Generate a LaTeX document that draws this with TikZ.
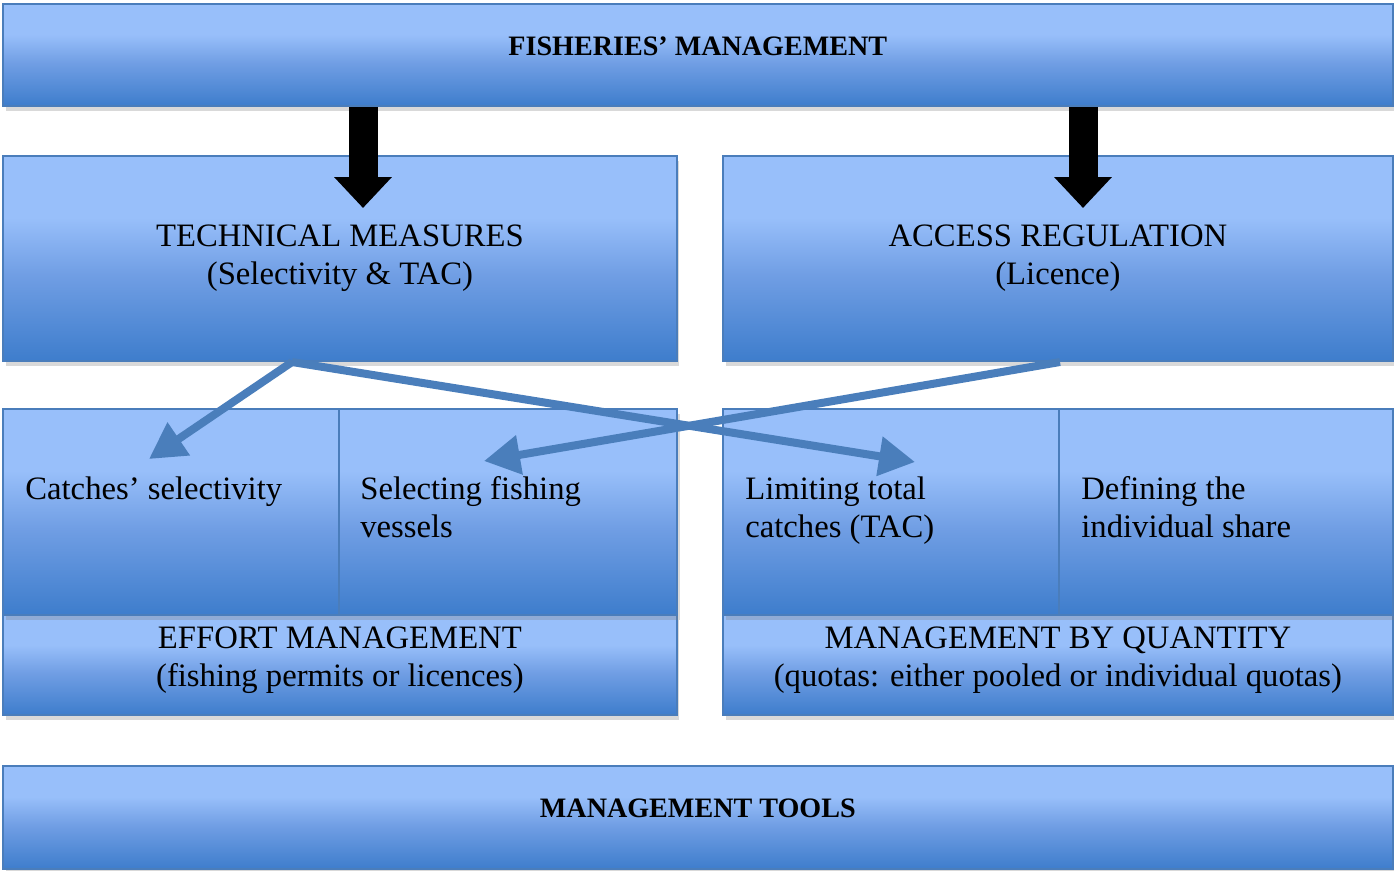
\documentclass[tikz,border=0pt]{standalone}
\usepackage{fontspec}
\setmainfont{Liberation Serif}
\usepackage{tikz}
\usetikzlibrary{arrows.meta,shadows}
\definecolor{paneltop}{RGB}{152,191,250}
\definecolor{panelmid}{RGB}{112,158,228}
\definecolor{panelbot}{RGB}{62,125,204}
\definecolor{panelline}{RGB}{74,125,187}
\definecolor{linkblue}{RGB}{74,126,187}
\pgfdeclareverticalshading{panelshade}{100bp}{color(0bp)=(panelbot); color(25bp)=(panelbot); color(46bp)=(panelmid); color(60bp)=(paneltop); color(100bp)=(paneltop)}
\newcommand{\bigtext}{\fontsize{18.6}{21.8}\selectfont}

\begin{document}
\begin{tikzpicture}[x=0.02cm, y=-0.02cm,
    panel/.style={draw=panelline, line width=1.1pt, shading=panelshade, anchor=north west,
      drop shadow={shadow xshift=1.5pt, shadow yshift=-3pt, opacity=0.3}, font=\bigtext, align=center},
    banner/.style={panel, minimum width=27.8cm, font=\bfseries\fontsize{16}{19}\selectfont, text depth=0.36cm},
    celltext/.style={anchor=north west, align=left, inner sep=0pt, font=\bigtext},
    bigarrow/.style={line width=0.58cm, -{Triangle[length=0.62cm, width=1.12cm]}},
    linkarrow/.style={draw=linkblue, line width=0.16cm, -{Triangle[length=0.72cm, width=0.76cm]}}]
    \useasboundingbox (0,0) rectangle (1394,870);

    \node[banner, minimum height=2.04cm] (fishmgmt) at (2,3) {FISHERIES’ MANAGEMENT};
    \node[panel, minimum width=13.48cm, minimum height=4.1cm] (techmeas) at (2,155) {TECHNICAL MEASURES\\(Selectivity \& TAC)};
    \node[panel, minimum width=13.4cm, minimum height=4.1cm] (accessreg) at (722,155) {ACCESS REGULATION\\(Licence)};

    % lower row, two cells per side
    \node[panel, minimum width=13.48cm, minimum height=2cm, text depth=0.34cm] (effortmgmt) at (2,614) {EFFORT MANAGEMENT\\(fishing permits or licences)};
    \node[panel, minimum width=13.4cm, minimum height=2cm, text depth=0.34cm] (quantmgmt) at (722,614) {MANAGEMENT BY QUANTITY\\(quotas: either pooled or individual quotas)};
    \node[panel, minimum width=6.72cm, minimum height=4.12cm] (catchcell) at (2,408) {};
    \node[panel, minimum width=6.76cm, minimum height=4.12cm] (vesselcell) at (338,408) {};
    \node[panel, minimum width=6.72cm, minimum height=4.12cm] (limitcell) at (722,408) {};
    \node[panel, minimum width=6.68cm, minimum height=4.12cm] (sharecell) at (1058,408) {};
    \node[celltext] (catchtxt) at (25,476) {Catches’ selectivity};
    \node[celltext] (vesseltxt) at (360,476) {Selecting fishing\\vessels};
    \node[celltext] (limittxt) at (745,476) {Limiting total\\catches (TAC)};
    \node[celltext] (sharetxt) at (1081,476) {Defining the\\individual share};

    \node[banner, minimum height=2.06cm] (mgmttools) at (2,765) {MANAGEMENT TOOLS};

    \coordinate (techhead) at (363,208);
    \coordinate (accesshead) at (1083,208);
    \coordinate (techfoot) at (292,362);
    \coordinate (accessfoot) at (1060,362);
    \coordinate (catchtip) at (149,459);
    \coordinate (vesseltip) at (484,461);
    \coordinate (limittip) at (915,462);

    \path
    (fishmgmt.south -| techhead) edge[bigarrow] (techhead)
    (fishmgmt.south -| accesshead) edge[bigarrow] (accesshead)
    (techfoot) edge[linkarrow] (catchtip)
    (techfoot) edge[linkarrow] (limittip)
    (accessfoot) edge[linkarrow] (vesseltip)
    ;
\end{tikzpicture}
\end{document}
